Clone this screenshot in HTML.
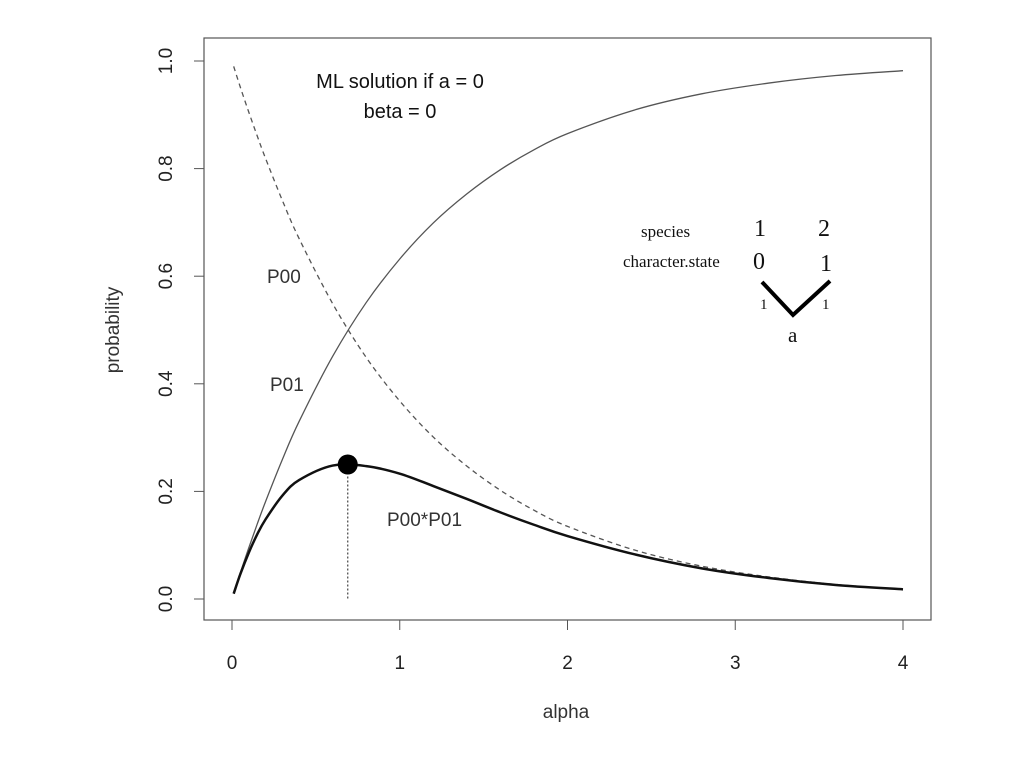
<!DOCTYPE html>
<html><head><meta charset="utf-8"><style>
body{margin:0;background:#fff}
svg{display:block}
</style></head><body>
<svg width="1024" height="768" xmlns="http://www.w3.org/2000/svg">
<rect x="204" y="38" width="727" height="582" fill="none" stroke="#555" stroke-width="1.2"/>
<g id="axes" font-family="Liberation Sans, sans-serif" font-size="19" fill="#222"></g>
<g id="series"></g>
<g font-family="Liberation Sans, sans-serif" font-size="19" fill="#111">
<text x="400" y="88" text-anchor="middle" font-size="20">ML solution if a = 0</text>
<text x="400" y="118" text-anchor="middle" font-size="20">beta = 0</text>
<text x="267" y="283" fill="#333">P00</text>
<text x="270" y="391" fill="#333">P01</text>
<text x="387" y="526" fill="#333">P00*P01</text>
<text x="566" y="718" text-anchor="middle" fill="#333">alpha</text>
<text transform="translate(119,330) rotate(-90)" text-anchor="middle" fill="#333">probability</text>
</g>
<g font-family="Liberation Serif, serif" fill="#111">
<text x="641" y="237" font-size="17">species</text>
<text x="623" y="267" font-size="17">character.state</text>
<text x="754" y="236" font-size="24">1</text>
<text x="818" y="236" font-size="24">2</text>
<text x="753" y="269" font-size="24">0</text>
<text x="820" y="271" font-size="24">1</text>
<polyline points="762,282 793,315 830,281" fill="none" stroke="#000" stroke-width="4"/>
<text x="760" y="309" font-size="15">1</text>
<text x="822" y="309" font-size="15">1</text>
<text x="788" y="342" font-size="21">a</text>
</g>
</svg>
<script>
const alphaVals=[0.01,0.05,0.1,0.15,0.2,0.3,0.4,0.6,0.8,1.0,1.2,1.4,1.6,1.8,2.0,2.4,2.8,3.2,3.6,4.0];
const p00Vals=[0.99,0.951,0.905,0.861,0.819,0.741,0.670,0.549,0.449,0.368,0.301,0.247,0.202,0.165,0.135,0.091,0.061,0.041,0.027,0.018];
const p01Vals=[0.01,0.049,0.095,0.139,0.181,0.259,0.330,0.451,0.551,0.632,0.699,0.753,0.798,0.835,0.865,0.909,0.939,0.959,0.973,0.982];
const prodVals=[0.0099,0.0465,0.086,0.120,0.148,0.192,0.221,0.248,0.247,0.233,0.210,0.186,0.161,0.138,0.117,0.083,0.057,0.039,0.026,0.018];
const maxPoint=[0.69,0.25];
const xTicks=[0,1,2,3,4];
const yTicks=[0.0,0.2,0.4,0.6,0.8,1.0];
const NS='http://www.w3.org/2000/svg';
const xs=v=>232+v*167.75, ys=v=>599-v*538;
const axes=document.getElementById('axes'), ser=document.getElementById('series');
function mk(tag,attrs,parent){const e=document.createElementNS(NS,tag);for(const k in attrs)e.setAttribute(k,attrs[k]);parent.appendChild(e);return e;}
const xl=mk('line',{x1:xs(0),x2:xs(4),y1:620,y2:620,stroke:'#555'},axes);


const yl=mk('line',{x1:204,x2:204,y1:ys(0),y2:ys(1),stroke:'#555'},axes);


xTicks.forEach(t=>{
 const l=mk('line',{x1:xs(t),x2:xs(t),y1:620,y2:630,stroke:'#555'},axes);
 
 
 const tx=mk('text',{x:xs(t),y:669,'text-anchor':'middle'},axes);tx.textContent=t;
 
 
});
yTicks.forEach(t=>{
 const l=mk('line',{x1:194,x2:204,y1:ys(t),y2:ys(t),stroke:'#555'},axes);
 
 
 const tx=mk('text',{transform:`translate(172,${ys(t)}) rotate(-90)`,'text-anchor':'middle'},axes);tx.textContent=t.toFixed(1);
 
 
});
function path(vals){
 const p=alphaVals.map((a,i)=>[xs(a),ys(vals[i])]);
 let d=`M${p[0][0]},${p[0][1]}`;
 for(let i=0;i<p.length-1;i++){
  const p0=p[Math.max(0,i-1)],p1=p[i],p2=p[i+1],p3=p[Math.min(p.length-1,i+2)];
  d+=` C${p1[0]+(p2[0]-p0[0])/6},${p1[1]+(p2[1]-p0[1])/6} ${p2[0]-(p3[0]-p1[0])/6},${p2[1]-(p3[1]-p1[1])/6} ${p2[0]},${p2[1]}`;
 }
 return d;
}
const c1=mk('path',{d:path(p00Vals),fill:'none',stroke:'#555','stroke-width':1.3,'stroke-dasharray':'5,4'},ser);


const c2=mk('path',{d:path(p01Vals),fill:'none',stroke:'#555','stroke-width':1.3},ser);


const c3=mk('path',{d:path(prodVals),fill:'none',stroke:'#111','stroke-width':2.5},ser);


const vl=mk('line',{x1:xs(maxPoint[0]),x2:xs(maxPoint[0]),y1:ys(maxPoint[1]),y2:ys(0),stroke:'#444','stroke-width':1.2,'stroke-dasharray':'2,2'},ser);


const dot=mk('circle',{cx:xs(maxPoint[0]),cy:ys(maxPoint[1]),r:10,fill:'#000'},ser);


</script>
</body></html>
